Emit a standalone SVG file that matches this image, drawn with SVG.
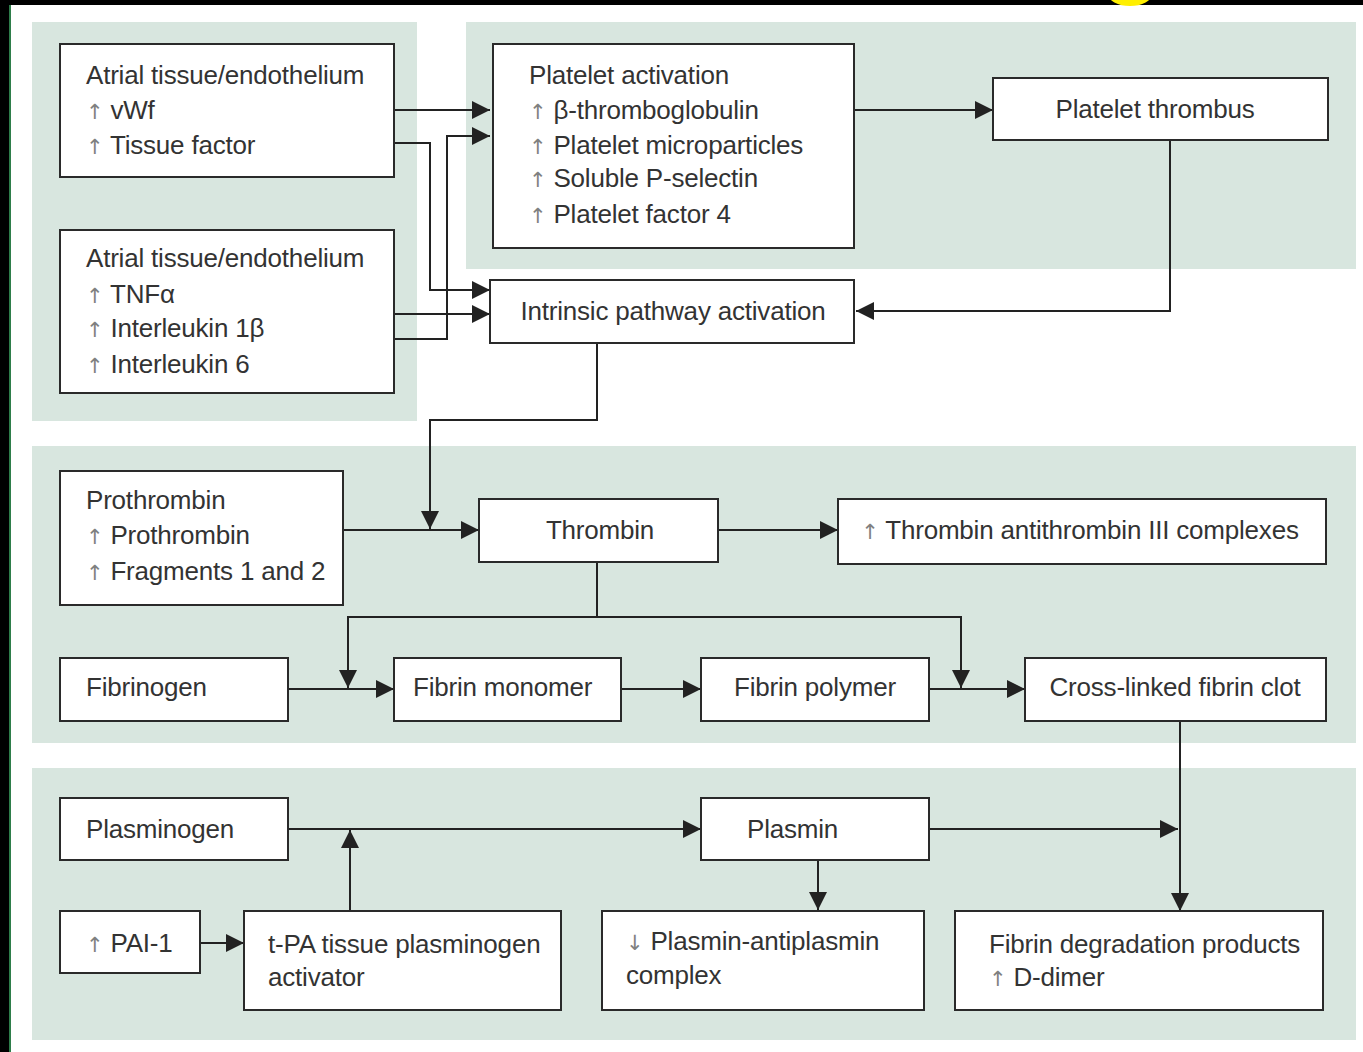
<svg xmlns="http://www.w3.org/2000/svg" width="1363" height="1052" viewBox="0 0 1363 1052">
<defs>
<style>
.panel{fill:#d8e6df}
.box{fill:#fff;stroke:#2a2a2a;stroke-width:2}
.t{font-family:"Liberation Sans",Arial,sans-serif;font-size:26px;fill:#333;letter-spacing:-0.2px}
.c{text-anchor:middle}
.ar{fill:#808080;font-family:"DejaVu Sans",sans-serif;font-size:21px}
.ln{fill:none;stroke:#222;stroke-width:2}
</style>
<marker id="ah" viewBox="0 0 18 18" refX="18" refY="9" markerWidth="18" markerHeight="18" markerUnits="userSpaceOnUse" orient="auto">
<path d="M0,0 L18,9 L0,18 z" fill="#222"/>
</marker>
</defs>
<rect x="0" y="0" width="1363" height="1052" fill="#fff"/>
<rect x="0" y="0" width="1363" height="5" fill="#000"/>
<rect x="0" y="0" width="9" height="1052" fill="#000"/>
<rect x="9" y="5" width="2" height="1047" fill="#2e7d4a"/>
<ellipse cx="1130" cy="-8" rx="20" ry="11" fill="none" stroke="#ffef00" stroke-width="6"/>

<g id="panels">
<rect class="panel" x="32" y="22" width="385" height="399"/>
<rect class="panel" x="466" y="22" width="890" height="247"/>
<rect class="panel" x="32" y="446" width="1324" height="297"/>
<rect class="panel" x="32" y="768" width="1324" height="272"/>
</g>

<g id="connectors">
<path class="ln" d="M394,110 H490" marker-end="url(#ah)"/>
<path class="ln" d="M394,143 H430 V290 H490" marker-end="url(#ah)"/>
<path class="ln" d="M394,339 H447 V136 H490" marker-end="url(#ah)"/>
<path class="ln" d="M394,314 H490" marker-end="url(#ah)"/>
<path class="ln" d="M854,110 H993" marker-end="url(#ah)"/>
<path class="ln" d="M1170,140 V311 H856" marker-end="url(#ah)"/>
<path class="ln" d="M597,343 V420 H430 V529" marker-end="url(#ah)"/>
<path class="ln" d="M343,530 H479" marker-end="url(#ah)"/>
<path class="ln" d="M718,530 H838" marker-end="url(#ah)"/>
<path class="ln" d="M597,562 V617"/>
<path class="ln" d="M597,617 H348 V688" marker-end="url(#ah)"/>
<path class="ln" d="M597,617 H961 V688" marker-end="url(#ah)"/>
<path class="ln" d="M288,689 H394" marker-end="url(#ah)"/>
<path class="ln" d="M621,689 H701" marker-end="url(#ah)"/>
<path class="ln" d="M929,689 H1025" marker-end="url(#ah)"/>
<path class="ln" d="M1180,721 V911" marker-end="url(#ah)"/>
<path class="ln" d="M288,829 H701" marker-end="url(#ah)"/>
<path class="ln" d="M350,911 V830" marker-end="url(#ah)"/>
<path class="ln" d="M927,829 H1178" marker-end="url(#ah)"/>
<path class="ln" d="M818,860 V910" marker-end="url(#ah)"/>
<path class="ln" d="M200,943 H244" marker-end="url(#ah)"/>
</g>

<g id="n-atrial1">
<rect class="box" x="60" y="44" width="334" height="133"/>
<text class="t" x="86" y="84">Atrial tissue/endothelium</text>
<text class="t" x="86" y="119"><tspan class="ar">↑</tspan> vWf</text>
<text class="t" x="86" y="154"><tspan class="ar">↑</tspan> Tissue factor</text>
</g>
<g id="n-atrial2">
<rect class="box" x="60" y="230" width="334" height="163"/>
<text class="t" x="86" y="267">Atrial tissue/endothelium</text>
<text class="t" x="86" y="303"><tspan class="ar">↑</tspan> TNFα</text>
<text class="t" x="86" y="337"><tspan class="ar">↑</tspan> Interleukin 1β</text>
<text class="t" x="86" y="373"><tspan class="ar">↑</tspan> Interleukin 6</text>
</g>
<g id="n-platelet">
<rect class="box" x="493" y="44" width="361" height="204"/>
<text class="t" x="529" y="84">Platelet activation</text>
<text class="t" x="529" y="119"><tspan class="ar">↑</tspan> β-thromboglobulin</text>
<text class="t" x="529" y="154"><tspan class="ar">↑</tspan> Platelet microparticles</text>
<text class="t" x="529" y="187"><tspan class="ar">↑</tspan> Soluble P-selectin</text>
<text class="t" x="529" y="223"><tspan class="ar">↑</tspan> Platelet factor 4</text>
</g>
<g id="n-thrombus">
<rect class="box" x="993" y="78" width="335" height="62"/>
<text class="t c" x="1155" y="118">Platelet thrombus</text>
</g>
<g id="n-intrinsic">
<rect class="box" x="490" y="280" width="364" height="63"/>
<text class="t c" x="673" y="320">Intrinsic pathway activation</text>
</g>
<g id="n-prothrombin">
<rect class="box" x="60" y="471" width="283" height="134"/>
<text class="t" x="86" y="509">Prothrombin</text>
<text class="t" x="86" y="544"><tspan class="ar">↑</tspan> Prothrombin</text>
<text class="t" x="86" y="580"><tspan class="ar">↑</tspan> Fragments 1 and 2</text>
</g>
<g id="n-thrombin">
<rect class="box" x="479" y="499" width="239" height="63"/>
<text class="t c" x="600" y="539">Thrombin</text>
</g>
<g id="n-tat">
<rect class="box" x="838" y="499" width="488" height="65"/>
<text class="t c" x="1080" y="539"><tspan class="ar">↑</tspan> Thrombin antithrombin III complexes</text>
</g>
<g id="n-fibrinogen">
<rect class="box" x="60" y="658" width="228" height="63"/>
<text class="t" x="86" y="696">Fibrinogen</text>
</g>
<g id="n-monomer">
<rect class="box" x="394" y="658" width="227" height="63"/>
<text class="t" x="413" y="696">Fibrin monomer</text>
</g>
<g id="n-polymer">
<rect class="box" x="701" y="658" width="228" height="63"/>
<text class="t" x="734" y="696">Fibrin polymer</text>
</g>
<g id="n-clot">
<rect class="box" x="1025" y="658" width="301" height="63"/>
<text class="t c" x="1175" y="696">Cross-linked fibrin clot</text>
</g>
<g id="n-plasminogen">
<rect class="box" x="60" y="798" width="228" height="62"/>
<text class="t" x="86" y="838">Plasminogen</text>
</g>
<g id="n-plasmin">
<rect class="box" x="701" y="798" width="228" height="62"/>
<text class="t" x="747" y="838">Plasmin</text>
</g>
<g id="n-pai">
<rect class="box" x="60" y="911" width="140" height="62"/>
<text class="t" x="86" y="952"><tspan class="ar">↑</tspan> PAI-1</text>
</g>
<g id="n-tpa">
<rect class="box" x="244" y="911" width="317" height="99"/>
<text class="t" x="268" y="953">t-PA tissue plasminogen</text>
<text class="t" x="268" y="986">activator</text>
</g>
<g id="n-pap">
<rect class="box" x="602" y="911" width="322" height="99"/>
<text class="t" x="626" y="950"><tspan class="ar">↓</tspan> Plasmin-antiplasmin</text>
<text class="t" x="626" y="984">complex</text>
</g>
<g id="n-fdp">
<rect class="box" x="955" y="911" width="368" height="99"/>
<text class="t" x="989" y="953">Fibrin degradation products</text>
<text class="t" x="989" y="986"><tspan class="ar">↑</tspan> D-dimer</text>
</g>
</svg>
